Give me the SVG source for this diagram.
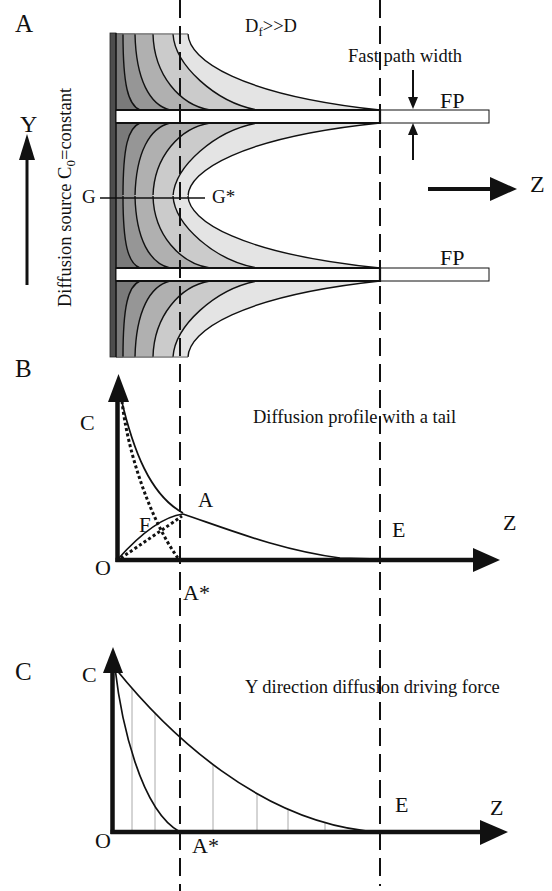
<svg xmlns="http://www.w3.org/2000/svg" xmlns:xlink="http://www.w3.org/1999/xlink" width="552" height="891" viewBox="0 0 552 891">
<style>
.t{font-family:"Liberation Serif","Times New Roman",serif;fill:#111}
.ax{stroke:#111;stroke-width:4.5;fill:none}
.dash{stroke:#111;stroke-width:2;stroke-dasharray:18 8;fill:none}
.c{stroke:#111;stroke-width:1.7;fill:none}
.cs{stroke:#111;stroke-width:1.4;fill:none;vector-effect:non-scaling-stroke}
.dot{stroke:#111;stroke-width:3;stroke-dasharray:3 2.5;fill:none}
.h{stroke:#aaa;stroke-width:1}
.ah{fill:#111}
</style>
<defs>
<g id="cell">
<path fill="#e4e4e4" d="M116,-77 L188,-77 L188,-76 C189,-50 240,-15 380,0 L116,0Z"/>
<path fill="#cbcbcb" d="M116,-77 L173,-77 L173,-76 C175,-45 215,-8 257,0 L116,0Z"/>
<path fill="#b0b0b0" d="M116,-77 L153,-77 L153,-76 C154,-35 180,-5 210,0 L116,0Z"/>
<path fill="#969696" d="M116,-77 L135,-77 L135,-76 C136,-30 150,-5 170,0 L116,0Z"/>
<path fill="#7a7a7a" d="M116,-77 L123,-77 L123,-76 C123,-25 128,-5 140,0 L116,0Z"/>
<path class="cs" d="M188,-76 C189,-50 240,-15 380,0"/>
<path class="cs" d="M173,-76 C175,-45 215,-8 257,0"/>
<path class="cs" d="M153,-76 C154,-35 180,-5 210,0"/>
<path class="cs" d="M135,-76 C136,-30 150,-5 170,0"/>
<path class="cs" d="M123,-76 C123,-25 128,-5 140,0"/>
</g>
</defs>
<rect width="552" height="891" fill="#fff"/>

<g id="panelA">
<g id="shading">
<use xlink:href="#cell" transform="translate(0,110)"/>
<use xlink:href="#cell" transform="translate(0,123) scale(1,-0.9605)"/>
<use xlink:href="#cell" transform="translate(0,268) scale(1,0.947)"/>
<use xlink:href="#cell" transform="translate(0,281) scale(1,-1)"/>
<line x1="116" y1="34" x2="188" y2="34" stroke="#666" stroke-width="1"/>
<line x1="116" y1="357" x2="188" y2="357" stroke="#666" stroke-width="1"/>
</g>
<g id="source">
<rect x="110" y="33" width="6" height="324" fill="#4d4d4d" stroke="#222" stroke-width="0.8"/>
<line x1="116" y1="33" x2="116" y2="357" stroke="#111" stroke-width="1.3"/>
</g>
<g id="fp1">
<rect x="116" y="110" width="373" height="13" fill="#fff" stroke="#111" stroke-width="1"/>
<path d="M116,110 H380 V123 H116" fill="none" stroke="#111" stroke-width="2.2"/>
</g>
<g id="fp2">
<rect x="116" y="268" width="373" height="13" fill="#fff" stroke="#111" stroke-width="1"/>
<path d="M116,268 H380 V281 H116" fill="none" stroke="#111" stroke-width="2.2"/>
</g>
<g id="gline">
<line x1="100" y1="198" x2="205" y2="198" stroke="#111" stroke-width="1.5"/>
<text class="t" x="82" y="203" font-size="19">G</text>
<text class="t" x="212" y="203" font-size="19">G*</text>
</g>
<g id="labelsA">
<text class="t" x="15" y="32" font-size="25">A</text>
<text class="t" x="245" y="32" font-size="18.5">D<tspan font-size="13" dy="4">f</tspan><tspan dy="-4">&gt;&gt;D</tspan></text>
<text class="t" x="348" y="62" font-size="18.5">Fast path width</text>
<text class="t" x="440" y="108" font-size="22">FP</text>
<text class="t" x="440" y="265" font-size="22">FP</text>
<text class="t" x="20" y="132" font-size="24">Y</text>
<text class="t" x="530" y="192" font-size="24">Z</text>
<text class="t" font-size="18.5" transform="translate(71,307) rotate(-90)">Diffusion source C<tspan font-size="13" dy="4">0</tspan><tspan dy="-4">=constant</tspan></text>
</g>
<g id="arrowsA">
<line x1="27" y1="285" x2="27" y2="155" stroke="#111" stroke-width="3"/>
<polygon class="ah" points="27,134 19,160 35,160"/>
<line x1="428" y1="189" x2="495" y2="189" stroke="#111" stroke-width="4"/>
<polygon class="ah" points="517,189 490,177 490,201"/>
<line x1="413" y1="70" x2="413" y2="99" stroke="#111" stroke-width="2"/>
<polygon class="ah" points="413,109 408,97 418,97"/>
<line x1="413" y1="160" x2="413" y2="133" stroke="#111" stroke-width="2"/>
<polygon class="ah" points="413,123 408,135 418,135"/>
</g>
</g>

<g id="panelB">
<g id="curvesB">
<path class="c" d="M121,398 C133,450 150,495 183,513"/>
<path class="c" d="M183,514 C230,530 280,550 340,558 L380,559"/>
<path class="c" d="M118,559 C135,540 160,517 183,514"/>
<path class="dot" d="M122,401 C127,450 150,520 178,558"/>
<path class="dot" d="M121,558 C140,545 165,528 182,516"/>
</g>
<g id="axesB">
<line class="ax" x1="117.5" y1="562" x2="117.5" y2="398"/>
<polygon class="ah" points="118.5,374 108,402 129,402"/>
<line class="ax" x1="115.5" y1="560" x2="478" y2="560"/>
<polygon class="ah" points="500,560 473,548 473,572"/>
</g>
<g id="labelsB">
<text class="t" x="15" y="377" font-size="25">B</text>
<text class="t" x="80" y="430" font-size="22">C</text>
<text class="t" x="95" y="575" font-size="22">O</text>
<text class="t" x="198" y="507" font-size="21">A</text>
<text class="t" x="139" y="532" font-size="21">F</text>
<text class="t" x="183" y="600" font-size="22">A*</text>
<text class="t" x="392" y="537" font-size="22">E</text>
<text class="t" x="503" y="530" font-size="22">Z</text>
<text class="t" x="253" y="423" font-size="18.5">Diffusion profile with a tail</text>
</g>
</g>

<g id="panelC">
<g id="hatch">
<line class="h" x1="132" y1="688" x2="132" y2="832"/>
<line class="h" x1="155" y1="713" x2="155" y2="832"/>
<line class="h" x1="213" y1="765" x2="213" y2="832"/>
<line class="h" x1="257" y1="794" x2="257" y2="832"/>
<line class="h" x1="288" y1="809" x2="288" y2="832"/>
<line class="h" x1="325" y1="822" x2="325" y2="832"/>
</g>
<g id="curvesC">
<path class="c" d="M115,668 C165,730 260,825 380,832"/>
<path class="c" d="M115,668 C121,720 140,810 180,832"/>
</g>
<g id="axesC">
<line class="ax" x1="112.5" y1="834" x2="112.5" y2="670"/>
<polygon class="ah" points="113,647 103,673 123,673"/>
<line class="ax" x1="110.5" y1="832" x2="485" y2="832"/>
<polygon class="ah" points="508,832 480,820 480,845"/>
</g>
<g id="labelsC">
<text class="t" x="15" y="680" font-size="25">C</text>
<text class="t" x="82" y="682" font-size="22">C</text>
<text class="t" x="95" y="848" font-size="22">O</text>
<text class="t" x="192" y="853" font-size="22">A*</text>
<text class="t" x="395" y="812" font-size="22">E</text>
<text class="t" x="490" y="815" font-size="22">Z</text>
<text class="t" x="245" y="693" font-size="18.5">Y direction diffusion driving force</text>
</g>
</g>

<g id="connectors">
<line class="dash" x1="180" y1="0" x2="180" y2="891"/>
<line class="dash" x1="380" y1="0" x2="380" y2="886"/>
</g>
</svg>
